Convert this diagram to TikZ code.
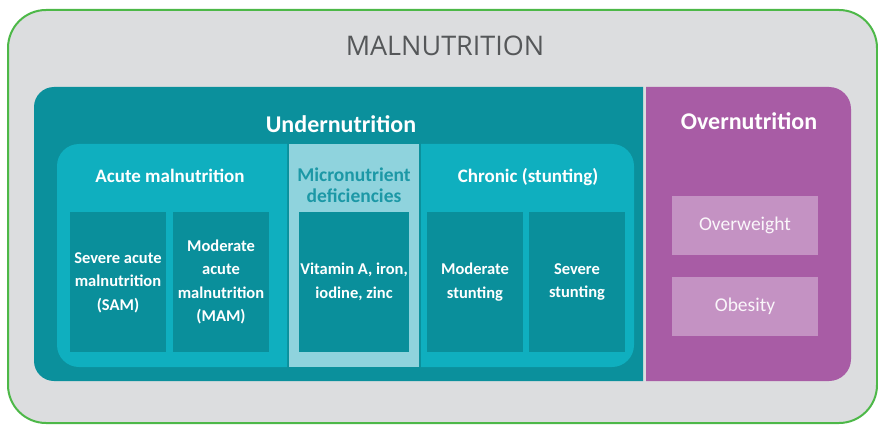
\documentclass[tikz,border=0pt]{standalone}
\usepackage{fontspec}
\setmainfont{Carlito}
\newfontfamily\lightfont{Open Sans}
\definecolor{bggray}{HTML}{DCDDDF}
\definecolor{greenline}{HTML}{4DB848}
\definecolor{undteal}{HTML}{0B909C}
\definecolor{midteal}{HTML}{0FAFBF}
\definecolor{microlight}{HTML}{8FD3DD}
\definecolor{innerteal}{HTML}{0A8F9B}
\definecolor{ovrpurple}{HTML}{A85CA5}
\definecolor{ovrlight}{HTML}{C492C3}
\definecolor{microtext}{HTML}{1C98A6}
\definecolor{titlegray}{HTML}{555759}
\tikzset{
  innerbox/.style={rectangle, fill=innerteal, inner sep=0pt, minimum height=140pt,
    text=white, font=\bfseries\fontsize{16.5}{23.5}\selectfont, align=center},
  ovrbox/.style={rectangle, fill=ovrlight, inner sep=0pt, minimum width=146pt, minimum height=59pt,
    text=white!92!ovrlight, font=\fontsize{19.5}{22}\selectfont},
  grouptitle/.style={text=white, font=\bfseries\fontsize{19}{22}\selectfont, align=center},
  maintitle/.style={text=white, font=\bfseries\fontsize{24}{28}\selectfont}
}
\begin{document}
\begin{tikzpicture}[x=1pt,y=1pt]
\useasboundingbox (0,0) rectangle (878,-425);
% outer box
\draw[greenline, line width=2pt, fill=bggray, rounded corners=38pt] (8,-10) rectangle (877,-423);
\node[text=titlegray, font=\lightfont\fontsize{27}{30}\selectfont] (mal) at (445,-46) {MALNUTRITION};
% undernutrition block
\fill[undteal] (643,-87) -- (54,-87) arc[start angle=90,end angle=180,radius=20] -- (34,-361)
  arc[start angle=180,end angle=270,radius=20] -- (643,-381) -- cycle;
% overnutrition block
\fill[ovrpurple] (646,-87) -- (829,-87) arc[start angle=90,end angle=0,radius=22] -- (851,-359)
  arc[start angle=0,end angle=-90,radius=22] -- (646,-381) -- cycle;
\node[maintitle] (und) at (341,-124) {Undernutrition};
\node[maintitle] (ovr) at (749,-121) {Overnutrition};
% group boxes
\fill[midteal] (287,-144) -- (79,-144) arc[start angle=90,end angle=180,radius=22] -- (57,-345)
  arc[start angle=180,end angle=270,radius=22] -- (287,-367) -- cycle;
\fill[microlight] (289,-144) rectangle (419,-367);
\fill[midteal] (421,-144) -- (612,-144) arc[start angle=90,end angle=0,radius=22] -- (634,-345)
  arc[start angle=0,end angle=-90,radius=22] -- (421,-367) -- cycle;
\node[grouptitle] (acute) at (170,-176) {Acute malnutrition};
\node[grouptitle, text=microtext, font=\bfseries\fontsize{19.5}{21}\selectfont] (micro) at (354,-185) {Micronutrient\\deficiencies};
\node[grouptitle] (chronic) at (528,-177) {Chronic (stunting)};
% inner boxes
\node[innerbox, minimum width=96pt] (sam) at (118,-282) {\raisebox{-3pt}{\begin{tabular}{@{}c@{}}Severe acute\\malnutrition\\(SAM)\end{tabular}}};
\node[innerbox, minimum width=96pt] (mam) at (221,-282) {\raisebox{-3pt}{\begin{tabular}{@{}c@{}}Moderate\\acute\\malnutrition\\(MAM)\end{tabular}}};
\node[innerbox, minimum width=110pt] (vit) at (354,-282) {Vitamin A, iron,\\iodine, zinc};
\node[innerbox, minimum width=96pt] (mods) at (475,-282) {Moderate\\stunting};
\node[innerbox, minimum width=96pt] (sevs) at (577,-282) {Severe\\stunting};
% overnutrition boxes
\node[ovrbox] (overw) at (745,-225.5) {Overweight};
\node[ovrbox] (obes) at (745,-306.5) {Obesity};
\end{tikzpicture}
\end{document}
